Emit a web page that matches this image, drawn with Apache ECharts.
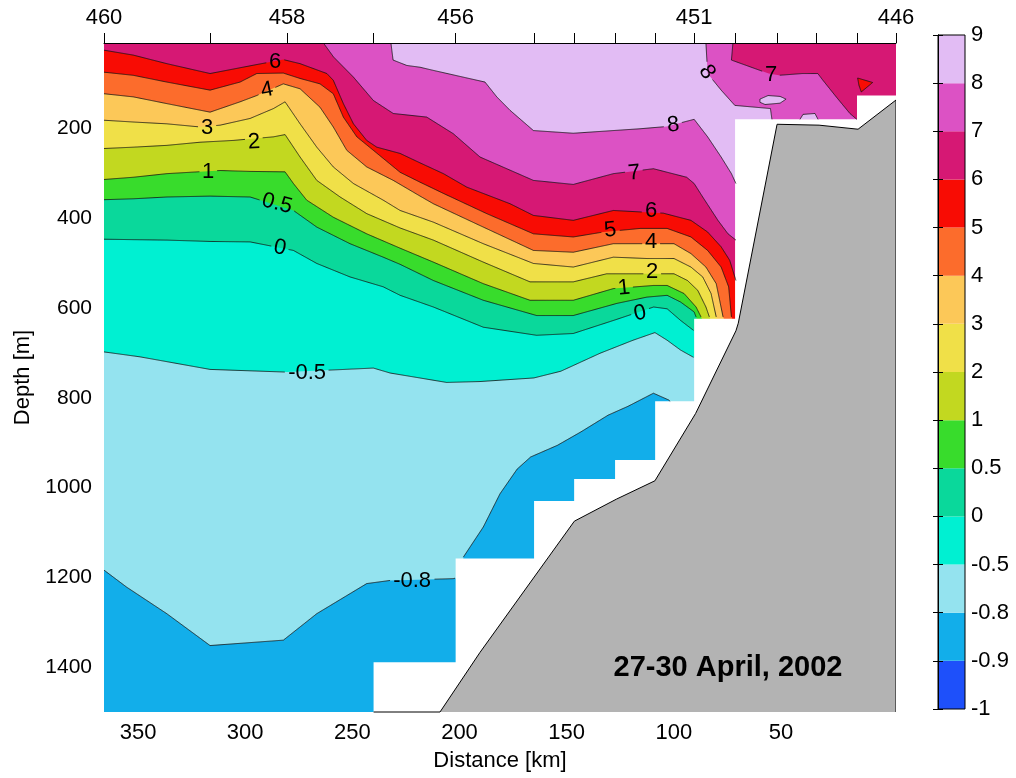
<!DOCTYPE html>
<html><head><meta charset="utf-8">
<script src="https://cdn.jsdelivr.net/npm/echarts@6/dist/echarts.min.js"></script>
<style>html,body{margin:0;padding:0;background:#fff}#c{width:1016px;height:778px}</style>
</head><body><div id="c"></div>
<script>
// ---------- data ----------
const levels = [-1,-0.9,-0.8,-0.5,0,0.5,1,2,3,4,5,6,7,8,9];
const bandColors = ['#1e50fa','#12aeea','#94e3ef','#00f0d2','#0ad89b','#38dc2c','#c2d820','#f0e048','#fcc858','#fc6c2c','#f80c04','#d61874','#dc52c4','#e2bcf4'];
const stationNo = [460,459,458,457,456,455,454,453,452,451,450,449,448,447,446];
const stationKm = [365.9,316.4,280.5,240.1,201.8,165.2,146.5,127.4,108.7,90.5,71.4,51.8,33.4,14.5,-3.7];
const labeledStations = [460,458,456,451,446];
const distanceTicks = [350,300,250,200,150,100,50];
const depthTicks = [200,400,600,800,1000,1200,1400];
// deepest sampled depth between consecutive mask stations
const maskStations = [460,457,456,455,454,453,452,451,450,447,446];
const dataBottom = [1500,1389,1158,1030,981,939,808,624,180,127];
// bottom topography
const bathyKm = [209.1,190.4,146.4,126.8,108.8,89.8,71.0,69.9,51.8,32.2,14.0,-3.7];
const bathyDepth = [1500,1367,1075,1026,985,835,651,634,191,193,202,137];

// contour lines [km, depth]
const isoM08a = [[365.9,1184],[355.3,1222],[336.6,1281],[316.4,1352],[282.2,1340],[266.6,1281],[243.3,1214],[232.4,1207],[202.9,1203],[202.1,1202]];
const isoM08b = [[198.2,1155],[188.9,1088],[181.1,1014],[173.1,959],[166.8,932],[154.3,906],[143.3,876],[130.7,839],[121.3,819],[109.5,790],[102.4,805],[101.7,808]];
const isoM05 = [[365.9,698],[349.1,709],[316.4,737],[280.6,743],[240.2,734],[232.4,745],[206.0,766],[190.4,764],[165.3,756],[152.7,741],[134.4,701],[127.5,688],[119.0,672],[108.8,655],[103.1,672],[96.8,694],[90.8,710]];
const iso0 = [[365.9,447],[352.2,448],[336.6,449],[316.4,452],[297.7,453],[277.5,472],[266.6,501],[251.1,531],[235.6,553],[227.7,572],[212.2,598],[188.9,643],[164.0,661],[146.9,657],[128.2,628],[109.4,598],[103.1,602],[96.8,628],[90.8,650]];
const iso05 = [[365.9,359],[352.2,357],[336.6,353],[316.4,351],[297.7,353],[277.5,383],[266.6,420],[251.1,457],[235.6,487],[227.7,503],[212.2,539],[188.9,583],[164.0,617],[146.9,617],[126.6,590],[112.6,576],[103.1,572],[96.8,587],[90.5,609],[89.6,620]];
const iso1 = [[365.9,314],[352.2,309],[336.6,301],[311.7,294],[297.7,296],[281.4,297],[277.5,323],[271.3,360],[258.9,398],[243.3,435],[227.7,467],[212.2,498],[188.9,546],[167.1,583],[146.9,583],[128.2,557],[109.5,550],[103.1,550],[95.2,568],[89.6,598],[87.3,620]];
const iso2 = [[365.9,245],[352.2,242],[336.6,238],[321.1,231],[305.6,227],[286.8,219],[281.4,214],[274.4,264],[266.6,316],[255.7,353],[243.3,390],[227.7,422],[212.2,449],[188.9,498],[167.1,542],[146.9,542],[131.3,524],[99.9,524],[93.6,539],[88.8,561],[85.0,598],[83.4,620]];
const iso3 = [[365.9,182],[352.2,186],[336.6,190],[321.1,197],[311.7,193],[297.7,178],[286.8,156],[281.4,141],[274.4,190],[266.6,242],[258.9,286],[249.5,323],[235.6,360],[227.7,383],[212.2,409],[188.9,457],[165.5,501],[146.9,509],[128.2,487],[112.6,490],[99.9,490],[92.0,509],[86.5,531],[82.6,568],[80.2,620]];
const iso4 = [[365.9,123],[352.2,130],[336.6,145],[316.4,164],[302.4,141],[294.6,127],[282.2,101],[274.4,112],[265.1,153],[258.9,197],[252.6,249],[243.3,286],[230.9,316],[218.4,351],[212.2,368],[188.9,420],[165.5,472],[146.9,476],[128.2,457],[99.9,457],[92.0,479],[85.0,509],[80.2,546],[77.0,620]];
const iso5 = [[365.9,75],[352.2,82],[336.6,97],[316.4,115],[302.4,97],[294.6,78],[282.2,77],[274.4,89],[265.1,101],[258.9,123],[254.2,175],[247.9,219],[240.2,249],[227.7,298],[218.4,320],[207.5,345],[187.3,390],[165.5,435],[146.9,442],[132.9,431],[115.7,423],[103.1,423],[92.0,442],[84.2,472],[77.9,509],[74.4,553],[73.1,620]];
const iso6 = [[365.9,26],[352.2,37],[336.6,56],[316.4,78],[294.6,58],[282.2,47],[274.4,56],[261.9,78],[258.9,93],[254.2,145],[249.5,190],[243.3,227],[238.6,242],[227.7,256],[218.4,277],[207.5,301],[196.6,331],[176.4,368],[165.5,394],[146.9,405],[128.2,383],[104.9,389],[92.0,405],[84.2,431],[77.9,464],[73.9,494],[71.0,539]];
const iso7a = [[263.5,10],[258.8,41],[249.5,86],[240.2,138],[230.9,167],[215.3,175],[202.9,212],[190.4,264],[165.5,316],[146.9,325],[128.2,301],[109.5,290],[94.0,309],[90.5,323],[86.5,353],[79.4,405],[74.7,435],[71.0,449]];
const iso7b = [[72.4,10],[73.1,48],[55.7,78],[51.0,82],[39.9,78],[32.8,78],[30.4,93],[24.2,130],[17.8,167],[14.6,180]];
const iso8a = [[232.0,10],[231.0,48],[224.6,60],[218.4,64],[212.2,71],[188.1,97],[182.6,130],[176.4,160],[165.5,205],[146.9,211],[128.2,205],[115.7,201],[103.3,196],[90.5,180],[84.2,219],[77.9,264],[73.1,301],[71.0,323]];
const iso8b = [[85.0,10],[84.2,78],[77.9,115],[71.5,149],[54.9,156],[54.2,180]];
const warmIsland = [[59.8,135],[56.0,127],[50.4,129],[47.6,135],[50.4,144],[57.4,147],[59.8,142]];
const warmBump = [[41.1,180],[39.7,169],[34.1,167],[32.7,180]];
const coolPatch = [[14.2,88],[7.2,98],[12.5,119],[13.6,104]];

// inline contour labels
const labelText  = ['6','4','3','2','1','0.5','0','-0.5','-0.8','8','8','7','7','6','5','4','2','1','0'];
const labelKm    = [286.1,289.8,317.8,295.9,317.3,285.1,283.8,271.1,222.1,100.3,84.5,118.5,54.6,110.6,129.7,110.6,110.1,123.2,115.7];
const labelDepth = [53,115,200,231,298,368,466,744,1207,193,75,300,82,385,427,454,519,556,612];
const labelRot   = [0,0.2,0,0.05,0,-0.25,-0.2,0,0,0.1,-1.0,0.1,0,0,0.1,0,0,0.1,0.2];

// ---------- build ----------
const KL = stationKm[0], KR = stationKm[stationKm.length-1];
const DT = 10, DB = 1500;
const kmOf = st => stationKm[stationNo.indexOf(st)];
const last = a => a[a.length-1];
function above(line){ const e = last(line); const d = Math.max(e[1],640);
  return [[KL,DT], ...line, [e[0]-2,d], [KR,d], [KR,DT]]; }

const fills = [
  {c:1, pts:[[KL,DT],[KL,DB],[KR,DB],[KR,DT]]},
  {c:2, pts:[[KL,DT], ...isoM08a, [isoM08b[0][0], last(isoM08a)[1]], ...isoM08b, [last(isoM08b)[0]-1.5,830],[KR,830],[KR,DT]]},
  {c:3, pts:above(isoM05)},
  {c:4, pts:above(iso0)},
  {c:5, pts:above(iso05)},
  {c:6, pts:above(iso1)},
  {c:7, pts:above(iso2)},
  {c:8, pts:above(iso3)},
  {c:9, pts:above(iso4)},
  {c:10, pts:above(iso5)},
  {c:11, pts:above(iso6)},
  {c:12, pts:[...iso7a, [69,last(iso7a)[1]], [69,200], [last(iso7b)[0],200], ...iso7b.slice().reverse()]},
  {c:13, pts:[...iso8a, [69,last(iso8a)[1]], [last(iso8b)[0],200], ...iso8b.slice().reverse()]},
  {c:13, pts:warmIsland},
  {c:13, pts:warmBump},
  {c:10, pts:coolPatch}
];
const contourLines = [
  {lv:-0.8, pts:isoM08a},{lv:-0.8, pts:isoM08b},{lv:-0.5, pts:isoM05},{lv:0, pts:iso0},{lv:0.5, pts:iso05},
  {lv:1, pts:iso1},{lv:2, pts:iso2},{lv:3, pts:iso3},{lv:4, pts:iso4},{lv:5, pts:iso5},{lv:6, pts:iso6},
  {lv:7, pts:iso7a},{lv:7, pts:iso7b},{lv:8, pts:iso8a},{lv:8, pts:iso8b},
  {lv:8, pts:warmIsland, closed:true},{lv:8, pts:warmBump},{lv:6, pts:coolPatch, closed:true}
];
const maskPts = [[KL,DB]];
for (let i=0;i<dataBottom.length;i++){ maskPts.push([kmOf(maskStations[i]),dataBottom[i]],[kmOf(maskStations[i+1]),dataBottom[i]]); }
maskPts.push([KR,DB]);
const bathyPts = bathyKm.map((k,i)=>[k,bathyDepth[i]]);

const FONT = '"Liberation Sans", Arial, Helvetica, sans-serif';
function charW(ch){ return ch==='.'?6.1:(ch==='-'?7.3:12.2); }
function splitByGaps(px, gaps){
  const out=[]; let cur=[];
  const inside=(x,y)=>gaps.some(g=>{const dx=x-g.x, dy=y-g.y; const u=dx*g.c-dy*g.s, v=dx*g.s+dy*g.c; return Math.abs(u)<g.hw && Math.abs(v)<g.hh;});
  for (let i=0;i<px.length-1;i++){
    const [x0,y0]=px[i],[x1,y1]=px[i+1];
    const n=Math.max(1,Math.ceil(Math.hypot(x1-x0,y1-y0)));
    for (let j=(i===0?0:1); j<=n; j++){
      const t=j/n, x=x0+(x1-x0)*t, y=y0+(y1-y0)*t;
      if (inside(x,y)) { if (cur.length>1) out.push(cur); cur=[]; } else cur.push([x,y]);
    }
  }
  if (cur.length>1) out.push(cur);
  return out;
}
const idxData = n => Array.from({length:n},(_,i)=>[100,500,i]);

const chart = echarts.init(document.getElementById('c'), null, {renderer:'canvas'});
chart.setOption({
  animation:false,
  backgroundColor:'#fff',
  textStyle:{fontFamily:FONT},
  grid:[
    {left:104, right:120, top:43, bottom:66},
    {left:938, top:35, width:27, height:674}
  ],
  xAxis:[
    {gridIndex:0, type:'value', inverse:true, min:KR, max:KL,
     name:'Distance [km]', nameLocation:'middle', nameGap:38,
     nameTextStyle:{fontSize:22, color:'#000', fontFamily:FONT},
     axisLine:{show:false}, axisTick:{show:false}, splitLine:{show:false},
     axisLabel:{customValues:distanceTicks, fontSize:22, color:'#000', margin:10, fontFamily:FONT, formatter:v=>String(v)}},
    {gridIndex:0, type:'value', position:'top', inverse:true, min:KR, max:KL, z:10,
     axisLine:{show:true, lineStyle:{color:'#000', width:1}},
     axisTick:{show:true, customValues:stationKm, length:10, lineStyle:{color:'#000', width:1}},
     splitLine:{show:false},
     axisLabel:{customValues:labeledStations.map(kmOf), fontSize:22, color:'#000', margin:14, fontFamily:FONT,
       showMinLabel:true, showMaxLabel:true,
       formatter:v=>{const i=stationKm.findIndex(k=>Math.abs(k-v)<1e-6); return i>=0?String(stationNo[i]):'';}}},
    {gridIndex:1, type:'value', min:0, max:1, show:false}
  ],
  yAxis:[
    {gridIndex:0, type:'value', inverse:true, min:DT, max:DB,
     name:'Depth [m]', nameLocation:'middle', nameGap:70, nameRotate:90,
     nameTextStyle:{fontSize:22, color:'#000', fontFamily:FONT},
     axisLine:{show:false}, axisTick:{show:false}, splitLine:{show:false},
     axisLabel:{customValues:depthTicks, fontSize:21, color:'#000', margin:12, fontFamily:FONT, formatter:v=>String(v)}},
    {gridIndex:1, type:'value', position:'right', min:0, max:levels.length-1, interval:1, z:10,
     axisLine:{show:true, lineStyle:{color:'#000'}},
     axisTick:{show:true, inside:true, length:5, lineStyle:{color:'#000'}},
     splitLine:{show:false},
     axisLabel:{fontSize:22, color:'#000', margin:6, fontFamily:FONT, showMinLabel:true, showMaxLabel:true,
       formatter:v=>String(levels[Math.round(v)])}},
    {gridIndex:1, type:'value', position:'left', min:0, max:levels.length-1, interval:1, z:10,
     axisLine:{show:true, lineStyle:{color:'#000'}},
     axisTick:{show:true, inside:true, length:5, lineStyle:{color:'#000'}},
     splitLine:{show:false}, axisLabel:{show:false}}
  ],
  graphic:[
    {type:'text', x:728, y:668, z:100, style:{text:'27-30 April, 2002', fill:'#000', fontSize:29, fontWeight:'bold', fontFamily:FONT, align:'center', verticalAlign:'middle'}}
  ],
  series:[
    {type:'custom', xAxisIndex:0, yAxisIndex:0, z:1, clip:true, silent:true, data:idxData(fills.length),
     renderItem:(p,api)=>{const f=fills[p.dataIndex]; return {type:'polygon', z2:p.dataIndex, shape:{points:f.pts.map(q=>api.coord(q))}, style:{fill:bandColors[f.c]}};}},
    {type:'custom', xAxisIndex:0, yAxisIndex:0, z:2, clip:true, silent:true, data:idxData(1),
     renderItem:(p,api)=>({type:'polygon', shape:{points:maskPts.map(q=>api.coord(q))}, style:{fill:'#ffffff'}})},
    {type:'custom', xAxisIndex:0, yAxisIndex:0, z:3, clip:true, silent:true, data:idxData(1),
     renderItem:(p,api)=>({type:'group', children:[
       {type:'polygon', shape:{points:[...bathyPts,[KR,DB]].map(q=>api.coord(q))}, style:{fill:'#b3b3b3'}},
       {type:'polyline', shape:{points:[...bathyPts,[KR,DB]].map(q=>api.coord(q))}, style:{stroke:'#000', lineWidth:1, fill:null}}
     ]})},
    {type:'custom', xAxisIndex:0, yAxisIndex:0, z:3, clip:false, silent:true, data:idxData(1),
     renderItem:(p,api)=>({type:'polyline', shape:{points:[[kmOf(maskStations[1]),DB],[bathyKm[0],DB]].map(q=>api.coord(q))}, style:{stroke:'#000', lineWidth:1, fill:null}})},
    {type:'custom', xAxisIndex:0, yAxisIndex:0, z:4, clip:true, silent:true, data:idxData(contourLines.length),
     renderItem:(p,api)=>{
       const L=contourLines[p.dataIndex];
       const px=(L.closed?[...L.pts,L.pts[0]]:L.pts).map(q=>api.coord(q));
       const gaps=[];
       labelText.forEach((t,i)=>{ if (parseFloat(t)===L.lv){ const c=api.coord([labelKm[i],labelDepth[i]]); const r=labelRot[i];
         const w=[...t].reduce((s,ch)=>s+charW(ch),0); gaps.push({x:c[0],y:c[1],c:Math.cos(r),s:Math.sin(r),hw:w/2+2.5,hh:9}); }});
       return {type:'group', children:splitByGaps(px,gaps).map(seg=>({type:'polyline', shape:{points:seg}, style:{stroke:'#111', lineWidth:0.8, fill:null}}))};
     }},
    {type:'custom', xAxisIndex:0, yAxisIndex:0, z:5, clip:false, silent:true, data:idxData(labelText.length),
     renderItem:(p,api)=>{const i=p.dataIndex; const c=api.coord([labelKm[i],labelDepth[i]]);
       return {type:'text', x:c[0], y:c[1], rotation:labelRot[i], style:{text:labelText[i], fill:'#000', fontSize:22, fontFamily:FONT, align:'center', verticalAlign:'middle'}};}},
    {type:'custom', xAxisIndex:2, yAxisIndex:1, z:1, silent:true, data:bandColors.map((c,i)=>[0.5,i+0.5]),
     renderItem:(p,api)=>{const i=p.dataIndex; const a=api.coord([0,i]), b=api.coord([1,i+1]);
       return {type:'rect', shape:{x:a[0], y:b[1], width:b[0]-a[0], height:a[1]-b[1]}, style:{fill:bandColors[i]}};}},
    {type:'custom', xAxisIndex:2, yAxisIndex:1, z:6, silent:true, data:[[0.5,7]],
     renderItem:(p,api)=>{const a=api.coord([0,0]), b=api.coord([1,levels.length-1]);
       return {type:'rect', shape:{x:a[0], y:b[1], width:b[0]-a[0], height:a[1]-b[1]}, style:{fill:null, stroke:'#000', lineWidth:1}};}}
  ]
});
</script></body></html>
